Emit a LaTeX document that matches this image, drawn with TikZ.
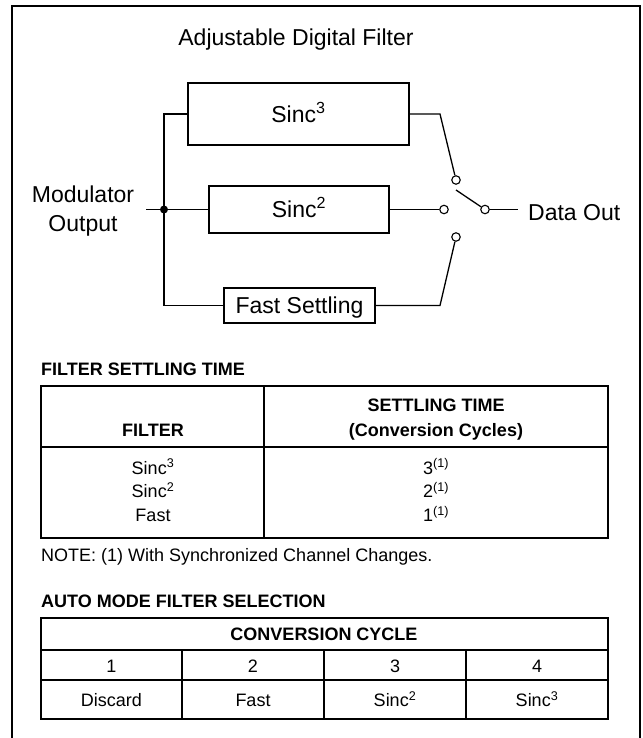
\documentclass[tikz,border=0pt]{standalone}
\usepackage{fontspec}
\setmainfont{Liberation Sans}
\begin{document}
\begin{tikzpicture}[x=1pt,y=-1pt,
  box/.style={draw,line width=2pt,inner sep=0pt,text height=16.5pt,text depth=0pt,font=\fontsize{23}{27}\selectfont},
  wire/.style={line width=1.3pt},
  contact/.style={circle,draw,line width=1.1pt,fill=white,inner sep=0pt,minimum size=8.5pt},
  tline/.style={line width=2pt},
  lab/.style={inner sep=0pt,font=\fontsize{23}{29}\selectfont},
  tab/.style={inner sep=0pt,font=\fontsize{18}{22}\selectfont},
  tabb/.style={inner sep=0pt,font=\fontsize{18}{22}\selectfont\bfseries}]
\useasboundingbox (0,0) rectangle (642,738);
% frame
\draw[line width=2pt] (12,738) -- (12,6);
\draw[line width=2.5pt] (11,6) -- (641,6);
\draw[line width=1.6pt] (640,6) -- (640,738);

% title
\node[lab,anchor=base] (title) at (296,46) {Adjustable Digital Filter};

% filter boxes
\node[box,minimum width=221pt,minimum height=62pt] (s3) at (298.5,114) {Sinc\textsuperscript{3}};
\node[box,minimum width=180pt,minimum height=47pt] (s2) at (299,209.5) {Sinc\textsuperscript{2}};
\node[box,minimum width=151pt,minimum height=35pt] (fs) at (299.5,305.5) {Fast Settling};

% input and bus
\node[lab,anchor=base,align=center] (mod) at (83,202) {Modulator};
\node[lab,anchor=base] (modb) at (83,231) {Output};
\coordinate (in) at (146,209.5);
\coordinate (bt) at (164,114);
\coordinate (bb) at (164,305.5);
\draw[wire] (s3.west) -- (bt) -- (bb) -- (fs.west);
\draw[wire] (in) -- (s2.west);
\node[circle,fill,inner sep=0pt,minimum size=8pt] (j) at (164,209.5) {};

% switch
\node[contact] (c3) at (456,180) {};
\node[contact] (c2) at (444,209.5) {};
\node[contact] (cf) at (456,237) {};
\node[contact] (co) at (485,209.5) {};
\coordinate (k3) at (440,114);
\coordinate (kf) at (440,305.5);
\coordinate (b1) at (456,190);
\coordinate (dout) at (518,209.5);
\draw[wire] (s3.east) -- (k3) -- (c3);
\draw[wire] (s2.east) -- (c2);
\draw[wire] (fs.east) -- (kf) -- (cf);
\draw[wire] (b1) -- (co);
\draw[wire] (co) -- (dout);
\node[lab,anchor=base west] (dlab) at (528,220) {Data Out};

% table 1
\node[tabb,anchor=base west] (t1title) at (41,375) {FILTER SETTLING TIME};
\draw[tline] (41,386) rectangle (608,538);
\draw[tline] (264,386) -- (264,538);
\draw[tline] (41,447) -- (608,447);
\node[tabb,anchor=base] (h1) at (153,436) {FILTER};
\node[tabb,anchor=base] (h2a) at (436,411) {SETTLING TIME};
\node[tabb,anchor=base] (h2b) at (436,436) {(Conversion Cycles)};
\node[tab,anchor=base] (r1a) at (153,474) {Sinc\textsuperscript{3}};
\node[tab,anchor=base] (r2a) at (153,497.5) {Sinc\textsuperscript{2}};
\node[tab,anchor=base] (r3a) at (153,521.5) {Fast};
\node[tab,anchor=base] (r1b) at (436,474) {3\textsuperscript{(1)}};
\node[tab,anchor=base] (r2b) at (436,497.5) {2\textsuperscript{(1)}};
\node[tab,anchor=base] (r3b) at (436,521.5) {1\textsuperscript{(1)}};
\node[tab,anchor=base west] (note) at (41,561.5) {NOTE: (1) With Synchronized Channel Changes.};

% table 2
\node[tabb,anchor=base west] (t2title) at (41,607.5) {AUTO MODE FILTER SELECTION};
\draw[tline] (41,618) rectangle (608,719);
\draw[tline] (41,650) -- (608,650);
\draw[tline] (41,680) -- (608,680);
\foreach \xx in {182,324,466} \draw[tline] (\xx,650) -- (\xx,719);
\node[tabb,anchor=base] (cc) at (324,640) {CONVERSION CYCLE};
\node[tab,anchor=base] (n1) at (111.5,672.5) {1};
\node[tab,anchor=base] (n2) at (253,672.5) {2};
\node[tab,anchor=base] (n3) at (395,672.5) {3};
\node[tab,anchor=base] (n4) at (537,672.5) {4};
\node[tab,anchor=base] (f1) at (111.5,706.5) {Discard};
\node[tab,anchor=base] (f2) at (253,706.5) {Fast};
\node[tab,anchor=base] (f3) at (395,706.5) {Sinc\textsuperscript{2}};
\node[tab,anchor=base] (f4) at (537,706.5) {Sinc\textsuperscript{3}};
\end{tikzpicture}
\end{document}
